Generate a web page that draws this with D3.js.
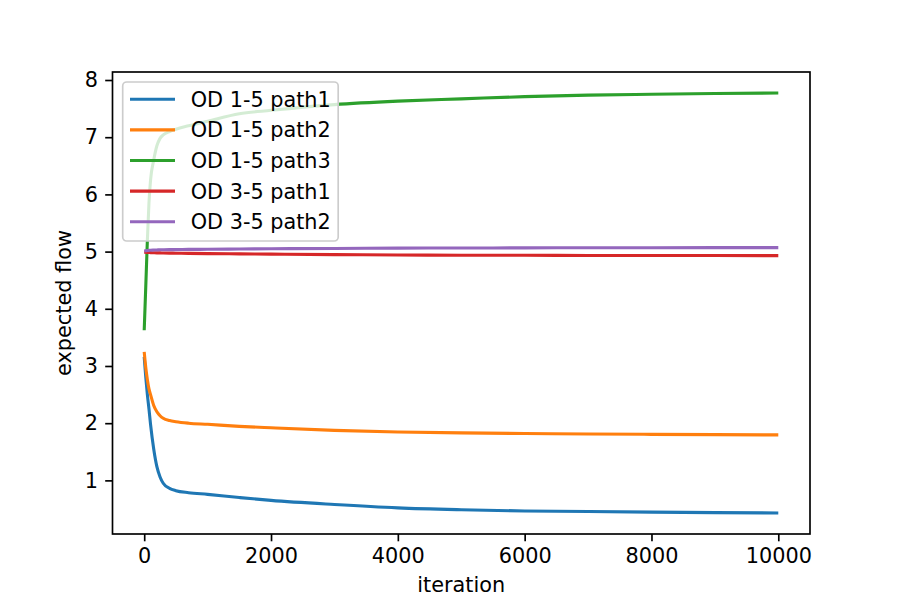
<!DOCTYPE html>
<html>
<head>
<meta charset="utf-8">
<script src="https://cdn.jsdelivr.net/npm/d3@7"></script>
<style>
  html, body { margin: 0; padding: 0; background: #fff; }
  svg { display: block; }
  text { font-family: "DejaVu Sans", sans-serif; }
</style>
</head>
<body>
<svg id="chart" width="900" height="600"></svg>
<script>
// ---- data ----
const iterations = [0, 25, 50, 75, 100, 150, 200, 250, 300, 400, 500, 700, 1000, 1500, 2000, 3000, 4000, 5000, 6000, 7000, 8000, 9000, 10000];
const od15path1 = [3.16, 2.80, 2.50, 2.25, 1.98, 1.55, 1.24, 1.06, 0.95, 0.86, 0.82, 0.785, 0.755, 0.70, 0.65, 0.578, 0.52, 0.487, 0.465, 0.455, 0.445, 0.437, 0.43];
const od15path2 = [3.245, 2.97, 2.76, 2.60, 2.50, 2.31, 2.20, 2.13, 2.085, 2.045, 2.025, 2.0, 1.98, 1.945, 1.92, 1.875, 1.845, 1.83, 1.82, 1.81, 1.805, 1.80, 1.795];
const od15path3 = [3.625, 4.40, 5.20, 5.85, 6.25, 6.60, 6.85, 6.98, 7.04, 7.10, 7.14, 7.20, 7.28, 7.41, 7.47, 7.57, 7.63, 7.67, 7.71, 7.735, 7.75, 7.765, 7.773];
const od35path1 = [4.99, 4.988, 4.986, 4.984, 4.982, 4.98, 4.978, 4.977, 4.976, 4.974, 4.972, 4.969, 4.965, 4.96, 4.955, 4.947, 4.94, 4.937, 4.935, 4.933, 4.932, 4.931, 4.93];
const od35path2 = [5.01, 5.015, 5.018, 5.021, 5.024, 5.027, 5.029, 5.031, 5.032, 5.034, 5.035, 5.038, 5.04, 5.045, 5.05, 5.055, 5.06, 5.063, 5.065, 5.067, 5.068, 5.069, 5.07];
const seriesNames = ["OD 1-5 path1", "OD 1-5 path2", "OD 1-5 path3", "OD 3-5 path1", "OD 3-5 path2"];
const seriesValues = [od15path1, od15path2, od15path3, od35path1, od35path2];
const colors = ["#1f77b4", "#ff7f0e", "#2ca02c", "#d62728", "#9467bd"];
const xTicks = [0, 2000, 4000, 6000, 8000, 10000];
const yTicks = [1, 2, 3, 4, 5, 6, 7, 8];
const xLabel = "iteration";
const yLabel = "expected flow";

// ---- layout ----
const W = 900, H = 600;
const pLeft = 112.5, pRight = 810, pTop = 72, pBottom = 534;
const fs = 20.8;
const tickLen = 7.3, tickPad = 7.3;

const svg = d3.select("#chart");
svg.append("rect").attr("width", W).attr("height", H).attr("fill", "#fff");

const x = d3.scaleLinear().domain([-500, 10500]).range([pLeft, pRight]);
const y = d3.scaleLinear().domain([0.0625, 8.14]).range([pBottom, pTop]);

// clip
svg.append("defs").append("clipPath").attr("id", "clip")
  .append("rect").attr("x", pLeft).attr("y", pTop).attr("width", pRight - pLeft).attr("height", pBottom - pTop);

const line = d3.line()
  .x((d, i) => x(iterations[i]))
  .y(d => y(d))
  .curve(d3.curveMonotoneX);

const gLines = svg.append("g").attr("clip-path", "url(#clip)");
seriesValues.forEach((vals, k) => {
  gLines.append("path")
    .datum(vals)
    .attr("fill", "none")
    .attr("stroke", colors[k])
    .attr("stroke-width", 3.1)
    .attr("stroke-linejoin", "round")
    .attr("stroke-linecap", "butt")
    .attr("d", line);
});

// axes
const xAxis = d3.axisBottom(x).tickValues(xTicks).tickFormat(d3.format("d"))
  .tickSizeInner(tickLen).tickSizeOuter(0).tickPadding(tickPad);
const yAxis = d3.axisLeft(y).tickValues(yTicks).tickFormat(d3.format("d"))
  .tickSizeInner(tickLen).tickSizeOuter(0).tickPadding(tickPad);

const gx = svg.append("g").attr("transform", `translate(0,${pBottom})`).call(xAxis);
const gy = svg.append("g").attr("transform", `translate(${pLeft},0)`).call(yAxis);
[gx, gy].forEach(g => {
  g.select(".domain").remove();
  g.selectAll(".tick line").attr("stroke", "#000").attr("stroke-width", 1.67);
  g.selectAll(".tick text").attr("fill", "#000").style("font-size", fs + "px")
    .style("font-family", "'DejaVu Sans', sans-serif");
});

// frame
svg.append("rect")
  .attr("x", pLeft).attr("y", pTop)
  .attr("width", pRight - pLeft).attr("height", pBottom - pTop)
  .attr("fill", "none").attr("stroke", "#000").attr("stroke-width", 1.67);

// axis labels
svg.append("text")
  .attr("x", (pLeft + pRight) / 2).attr("y", 592)
  .attr("text-anchor", "middle")
  .style("font-size", fs + "px")
  .text(xLabel);
svg.append("text")
  .attr("transform", `translate(71,${(pTop + pBottom) / 2}) rotate(-90)`)
  .attr("text-anchor", "middle")
  .style("font-size", fs + "px")
  .text(yLabel);

// legend
const lg = svg.append("g");
const lx = 122.7, ly = 82, lw = 215.5, lh = 159;
lg.append("rect")
  .attr("x", lx).attr("y", ly).attr("width", lw).attr("height", lh)
  .attr("rx", 4).attr("ry", 4)
  .attr("fill", "#fff").attr("fill-opacity", 0.8)
  .attr("stroke", "#cccccc").attr("stroke-width", 1.67);
const rowY0 = 99.3, rowStep = 30.6;
seriesNames.forEach((name, k) => {
  const cy = rowY0 + k * rowStep;
  lg.append("line")
    .attr("x1", 130).attr("x2", 175)
    .attr("y1", cy).attr("y2", cy)
    .attr("stroke", colors[k]).attr("stroke-width", 3.1);
  lg.append("text")
    .attr("x", 190.7).attr("y", cy)
    .attr("dy", "0.36em")
    .style("font-size", fs + "px")
    .attr("fill", "#000")
    .text(name);
});
</script>
</body>
</html>
